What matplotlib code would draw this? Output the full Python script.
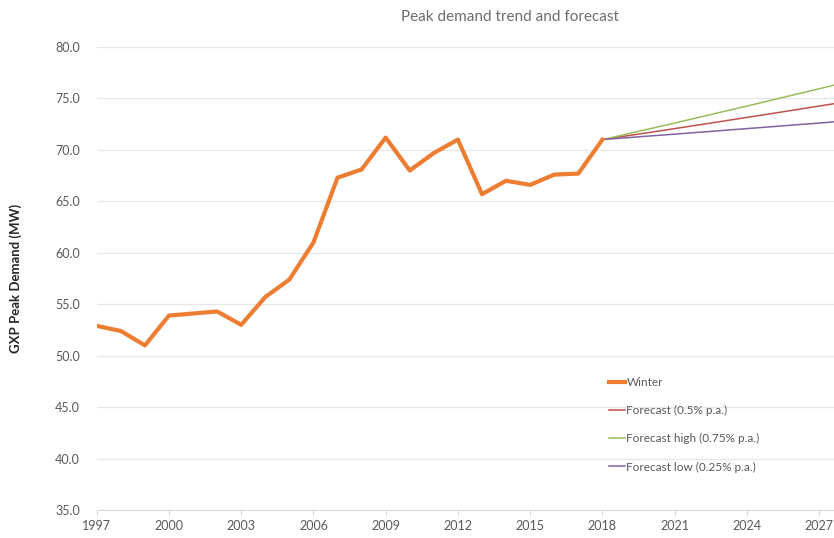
import matplotlib
matplotlib.use('Agg')
import matplotlib.pyplot as plt

# --- Data ---
years = list(range(1997, 2019))
winter = [52.9, 52.4, 51.0, 53.9, 54.1, 54.3, 53.0, 55.7, 57.4, 61.0, 67.3,
          68.1, 71.2, 68.0, 69.7, 71.0, 65.7, 67.0, 66.6, 67.6, 67.7, 71.0]

fc_years = list(range(2018, 2029))
fc_mid = [71.0, 71.36, 71.71, 72.07, 72.43, 72.79, 73.16, 73.52, 73.89, 74.26, 74.63]
fc_high = [71.0, 71.53, 72.07, 72.61, 73.16, 73.71, 74.26, 74.82, 75.38, 75.94, 76.51]
fc_low = [71.0, 71.18, 71.36, 71.53, 71.71, 71.89, 72.07, 72.25, 72.43, 72.61, 72.80]

x_ticks = list(range(1997, 2028, 3))
y_ticks = [35, 40, 45, 50, 55, 60, 65, 70, 75, 80]

plt.rcParams['font.family'] = ['Lato', 'DejaVu Sans']

fig = plt.figure(figsize=(8.34, 5.38), dpi=100)
ax = fig.add_axes([0.116, 0.052, 0.884, 0.8606])

ax.plot(years, winter, color='#ED7D31', lw=3, label='Winter', zorder=3)
ax.plot(fc_years, fc_mid, color='#C0504D', lw=1.1, label='Forecast (0.5% p.a.)', zorder=2)
ax.plot(fc_years, fc_high, color='#9BBB59', lw=1.1, label='Forecast high (0.75% p.a.)', zorder=2)
ax.plot(fc_years, fc_low, color='#8064A2', lw=1.1, label='Forecast low (0.25% p.a.)', zorder=2)

ax.set_xlim(1997, 2027.62)
ax.set_ylim(35, 80)
ax.set_xticks(x_ticks)
ax.set_yticks(y_ticks)
ax.set_yticklabels([f'{v:.1f}' for v in y_ticks])
ax.grid(axis='y', color='#E6E6E6', lw=0.9)
ax.set_axisbelow(True)

for side in ['top', 'right']:
    ax.spines[side].set_visible(False)
ax.spines['left'].set_visible(False)
ax.spines['bottom'].set_color('#D9D9D9')
ax.tick_params(axis='y', length=0, pad=12, labelsize=9, labelcolor='#595959')
ax.tick_params(axis='x', length=4, color='#D9D9D9', pad=3, labelsize=9, labelcolor='#595959')

ax.set_ylabel('GXP Peak Demand (MW)', fontsize=9.5, fontweight='bold', color='#262626', labelpad=24)
fig.text(0.612, 0.968, 'Peak demand trend and forecast', ha='center', va='center',
         fontsize=11, color='#6d6d6d')

leg = ax.legend(loc='upper left', bbox_to_anchor=(0.68, 0.31), frameon=False,
                fontsize=8.5, handlelength=1.4, handletextpad=0.1, labelspacing=1.45,
                labelcolor='#595959')

fig.savefig('out.png', dpi=100)
